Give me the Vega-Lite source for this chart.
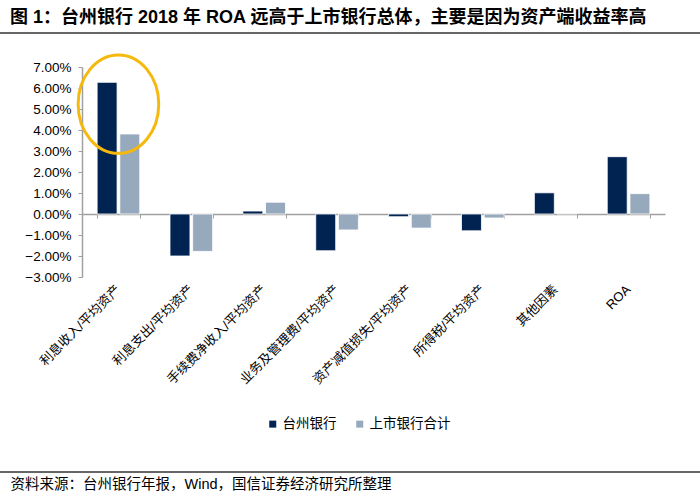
{
  "$schema": "https://vega.github.io/schema/vega-lite/v6.json",
  "autosize": {"type": "none"},
  "width": 583,
  "height": 210,
  "padding": {"left": 82, "top": 67, "right": 35, "bottom": 217},
  "background": "white",
  "title": {
    "text": "图 1：台州银行 2018 年 ROA 远高于上市银行总体，主要是因为资产端收益率高",
    "anchor": "start",
    "frame": "group",
    "dx": -72,
    "offset": 5,
    "font": "Liberation Sans, Noto Sans CJK SC",
    "fontSize": 18,
    "fontWeight": "bold",
    "color": "#000000"
  },
  "config": {"view": {"stroke": null}, "axis": {"grid": false}},
  "layer": [
    {
      "data": {
        "values": [
          {"category": "利息收入/平均资产", "series": "台州银行", "value": 0.0627},
          {"category": "利息收入/平均资产", "series": "上市银行合计", "value": 0.0381},
          {"category": "利息支出/平均资产", "series": "台州银行", "value": -0.0200},
          {"category": "利息支出/平均资产", "series": "上市银行合计", "value": -0.0178},
          {"category": "手续费净收入/平均资产", "series": "台州银行", "value": 0.0014},
          {"category": "手续费净收入/平均资产", "series": "上市银行合计", "value": 0.0056},
          {"category": "业务及管理费/平均资产", "series": "台州银行", "value": -0.0175},
          {"category": "业务及管理费/平均资产", "series": "上市银行合计", "value": -0.0076},
          {"category": "资产减值损失/平均资产", "series": "台州银行", "value": -0.0013},
          {"category": "资产减值损失/平均资产", "series": "上市银行合计", "value": -0.0067},
          {"category": "所得税/平均资产", "series": "台州银行", "value": -0.0080},
          {"category": "所得税/平均资产", "series": "上市银行合计", "value": -0.0019},
          {"category": "其他因素", "series": "台州银行", "value": 0.0101},
          {"category": "其他因素", "series": "上市银行合计", "value": 0.0003},
          {"category": "ROA", "series": "台州银行", "value": 0.0273},
          {"category": "ROA", "series": "上市银行合计", "value": 0.0097}
        ]
      },
      "mark": {"type": "bar", "stroke": "white", "strokeWidth": 0.8},
      "encoding": {
        "x": {
          "field": "category",
          "type": "nominal",
          "sort": ["利息收入/平均资产", "利息支出/平均资产", "手续费净收入/平均资产", "业务及管理费/平均资产", "资产减值损失/平均资产", "所得税/平均资产", "其他因素", "ROA"],
          "scale": {"paddingInner": 0.415, "paddingOuter": 0.2075},
          "axis": {
            "labelAngle": -45,
            "labelAlign": "right",
            "labelBaseline": "middle",
            "labelPadding": 10,
            "labelFont": "Liberation Sans, Noto Sans CJK SC",
            "labelFontSize": 13,
            "labelColor": "#000000",
            "labelLimit": 0,
            "domain": false,
            "ticks": false,
            "title": "资料来源：台州银行年报，Wind，国信证券经济研究所整理",
            "titleX": -72,
            "titleY": 207,
            "titleAlign": "left",
            "titleAnchor": "start",
            "titleBaseline": "middle",
            "titleFont": "Liberation Sans, Noto Sans CJK SC",
            "titleFontSize": 14.5,
            "titleFontWeight": "normal",
            "titleColor": "#000000"
          }
        },
        "xOffset": {
          "field": "series",
          "type": "nominal",
          "sort": ["台州银行", "上市银行合计"],
          "scale": {"paddingInner": 0.12}
        },
        "y": {
          "field": "value",
          "type": "quantitative",
          "scale": {"domain": [-0.03, 0.07], "nice": false, "zero": false},
          "axis": {
            "values": [-0.03, -0.02, -0.01, 0, 0.01, 0.02, 0.03, 0.04, 0.05, 0.06, 0.07],
            "format": ".2%",
            "title": null,
            "labelFont": "Liberation Sans",
            "labelFontSize": 13.5,
            "labelColor": "#000000",
            "labelPadding": 7,
            "tickSize": 4,
            "tickColor": "#A0A0A0",
            "domainColor": "#A0A0A0",
            "domainWidth": 1.5
          }
        },
        "color": {
          "field": "series",
          "type": "nominal",
          "sort": ["台州银行", "上市银行合计"],
          "scale": {"domain": ["台州银行", "上市银行合计"], "range": ["#002352", "#97A9BC"]},
          "legend": {
            "orient": "none",
            "legendX": 184,
            "legendY": 350,
            "direction": "horizontal",
            "title": null,
            "symbolType": "square",
            "symbolSize": 49,
            "symbolStrokeWidth": 0,
            "labelFont": "Noto Sans CJK SC",
            "labelFontSize": 13.5,
            "labelColor": "#000000",
            "labelOffset": 3,
            "columnPadding": 16
          }
        }
      }
    },
    {
      "data": {"values": [{"category": "利息收入/平均资产", "value": 0.0523}]},
      "mark": {
        "type": "point",
        "shape": "M -0.819 0 A 0.819 1 0 1 0 0.819 0 A 0.819 1 0 1 0 -0.819 0 Z",
        "size": 9683,
        "filled": false,
        "stroke": "#F5B80C",
        "strokeWidth": 3,
        "opacity": 1
      },
      "encoding": {
        "x": {
          "field": "category",
          "type": "nominal",
          "sort": ["利息收入/平均资产", "利息支出/平均资产", "手续费净收入/平均资产", "业务及管理费/平均资产", "资产减值损失/平均资产", "所得税/平均资产", "其他因素", "ROA"],
          "axis": {
            "orient": "bottom",
            "offset": -63,
            "labels": false,
            "ticks": true,
            "tickBand": "extent",
            "tickSize": 4,
            "tickColor": "#A0A0A0",
            "domainColor": "#A0A0A0",
            "domainWidth": 1.5,
            "title": null
          }
        },
        "y": {
          "field": "value",
          "type": "quantitative",
          "axis": {
            "values": [-0.03, -0.02, -0.01, 0, 0.01, 0.02, 0.03, 0.04, 0.05, 0.06, 0.07],
            "format": ".2%",
            "title": null,
            "labelFont": "Liberation Sans",
            "labelFontSize": 13.5,
            "labelColor": "#000000",
            "labelPadding": 7,
            "tickSize": 4,
            "tickColor": "#A0A0A0",
            "domainColor": "#A0A0A0",
            "domainWidth": 1.5
          }
        }
      }
    },
    {
      "data": {"values": [{"line": "title"}]},
      "mark": {"type": "rule", "color": "#333333", "strokeWidth": 1.5},
      "encoding": {"x": {"value": -82}, "x2": {"value": 618}, "y": {"value": -34}}
    },
    {
      "data": {"values": [{"line": "footer"}]},
      "mark": {"type": "rule", "color": "#333333", "strokeWidth": 1.5},
      "encoding": {"x": {"value": -82}, "x2": {"value": 618}, "y": {"value": 405}}
    }
  ],
  "resolve": {"axis": {"x": "independent"}}
}
